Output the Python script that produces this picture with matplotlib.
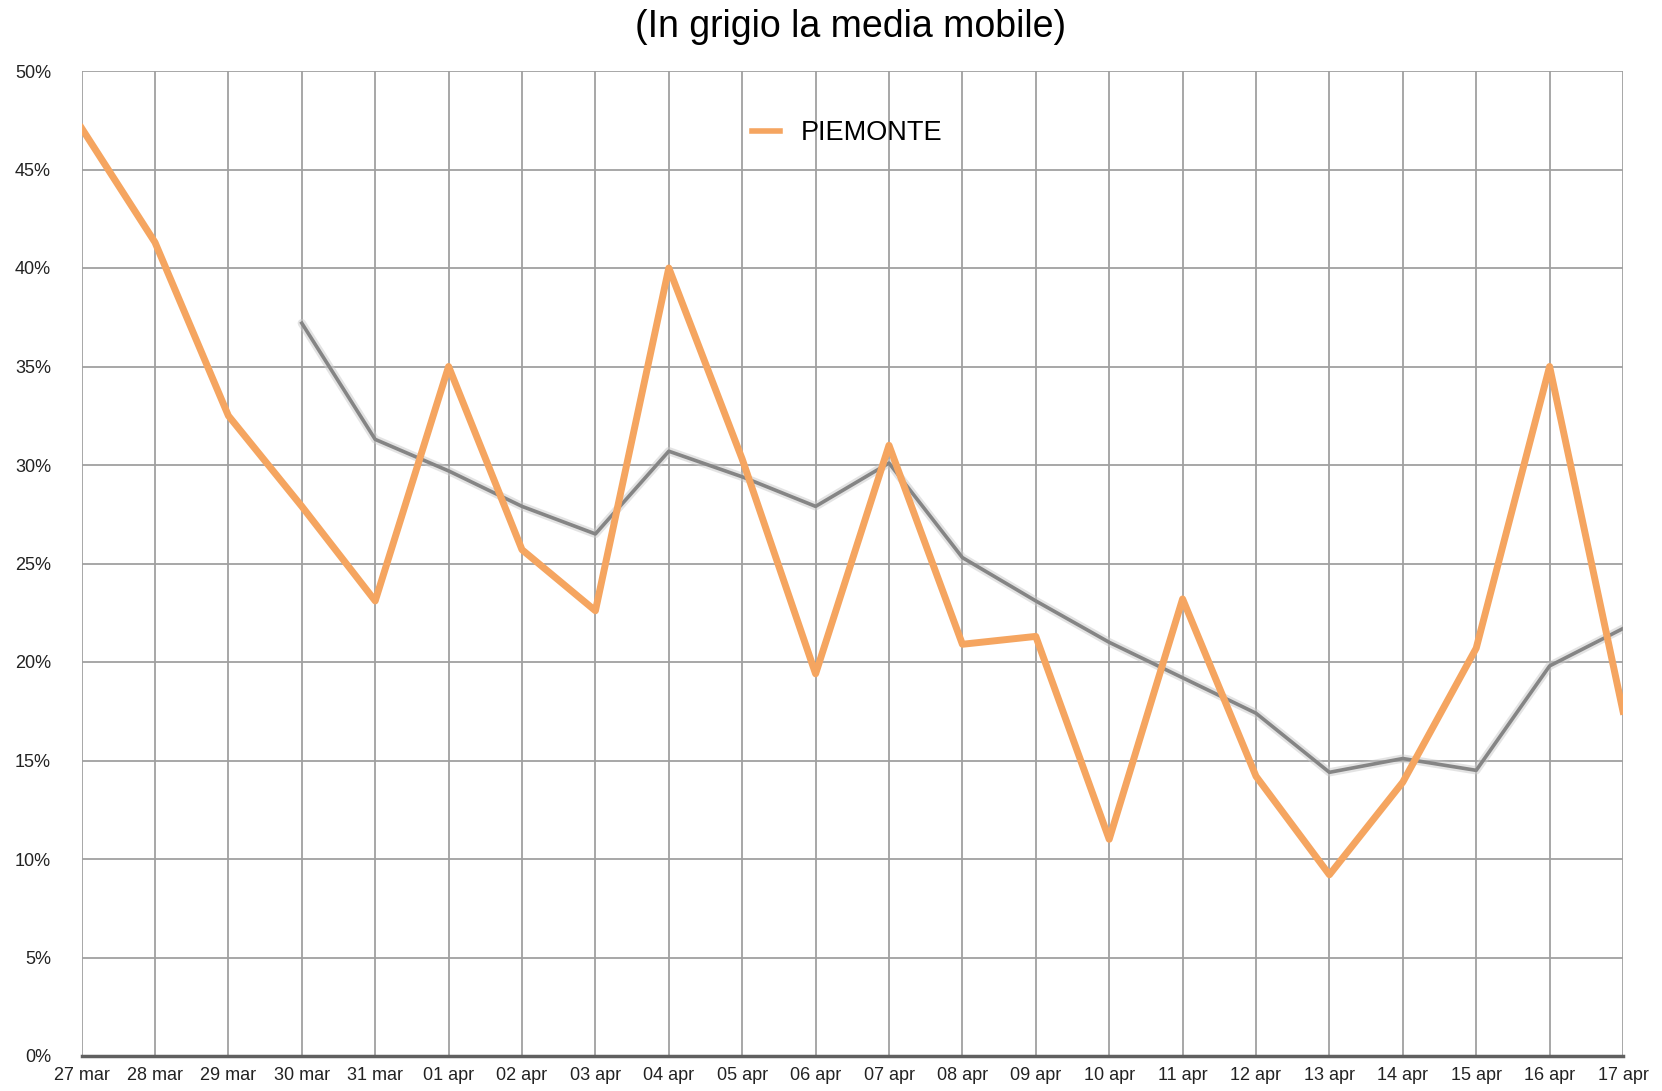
import matplotlib.pyplot as plt
from matplotlib.ticker import MultipleLocator, FuncFormatter

# dati
giorni = ['27 mar', '28 mar', '29 mar', '30 mar', '31 mar', '01 apr', '02 apr',
          '03 apr', '04 apr', '05 apr', '06 apr', '07 apr', '08 apr', '09 apr',
          '10 apr', '11 apr', '12 apr', '13 apr', '14 apr', '15 apr', '16 apr',
          '17 apr']
piemonte = [47.1, 41.3, 32.5, 27.9, 23.1, 35.0, 25.7, 22.6, 40.0, 30.3, 19.4,
            31.0, 20.9, 21.3, 11.0, 23.2, 14.2, 9.2, 13.9, 20.7, 35.0, 17.5]
# media mobile, parte dal 30 mar
media_giorni = giorni[3:]
media_mobile = [37.2, 31.3, 29.7, 27.9, 26.5, 30.7, 29.4, 27.9, 30.1, 25.3,
                23.1, 21.0, 19.2, 17.4, 14.4, 15.1, 14.5, 19.8, 21.7]

plt.rcParams['font.family'] = ['Liberation Sans Narrow', 'Liberation Sans', 'DejaVu Sans']

fig = plt.figure(figsize=(16.62, 10.91), dpi=100)
ax = fig.add_axes([81.6 / 1662, 1 - 1056 / 1091, (1623 - 81.6) / 1662, (1056 - 71) / 1091])

x = list(range(len(giorni)))
xm = x[3:]

ax.plot(xm, media_mobile, color='#c8c8c8', lw=6, alpha=0.5, solid_capstyle='round', zorder=3)
ax.plot(xm, media_mobile, color='#858585', lw=2.6, zorder=3)
ax.plot(x, piemonte, color='#f5a560', lw=5, label='PIEMONTE', zorder=4)

ax.set_xlim(0, len(giorni) - 1)
ax.set_ylim(0, 50)
ax.yaxis.set_major_locator(MultipleLocator(5))
ax.yaxis.set_major_formatter(FuncFormatter(lambda v, p: f'{v:.0f}%'))
ax.set_xticks(x)
ax.set_xticklabels(giorni)

ax.grid(True, color='#a0a0a0', lw=1.3)
ax.set_axisbelow(True)
for s in ['top', 'right', 'left']:
    ax.spines[s].set_visible(False)
ax.spines['bottom'].set_color('#606060')
ax.spines['bottom'].set_linewidth(2.5)
ax.tick_params(length=0, labelsize=13, labelcolor='#222222')
ax.tick_params(axis='y', pad=22)
ax.tick_params(axis='x', pad=8)

leg = ax.legend(loc='upper center', bbox_to_anchor=(0.497, 0.975), frameon=False,
                handlelength=1.0, handletextpad=0.8,
                prop={'family': ['Liberation Sans', 'DejaVu Sans'], 'size': 19.5})
for line in leg.get_lines():
    line.set_linewidth(4)

fig.text(0.512, 1 - 27 / 1091, '(In grigio la media mobile)', ha='center', va='center',
         fontsize=27, family=['Liberation Sans', 'DejaVu Sans'])

fig.savefig('out.png', dpi=100)
